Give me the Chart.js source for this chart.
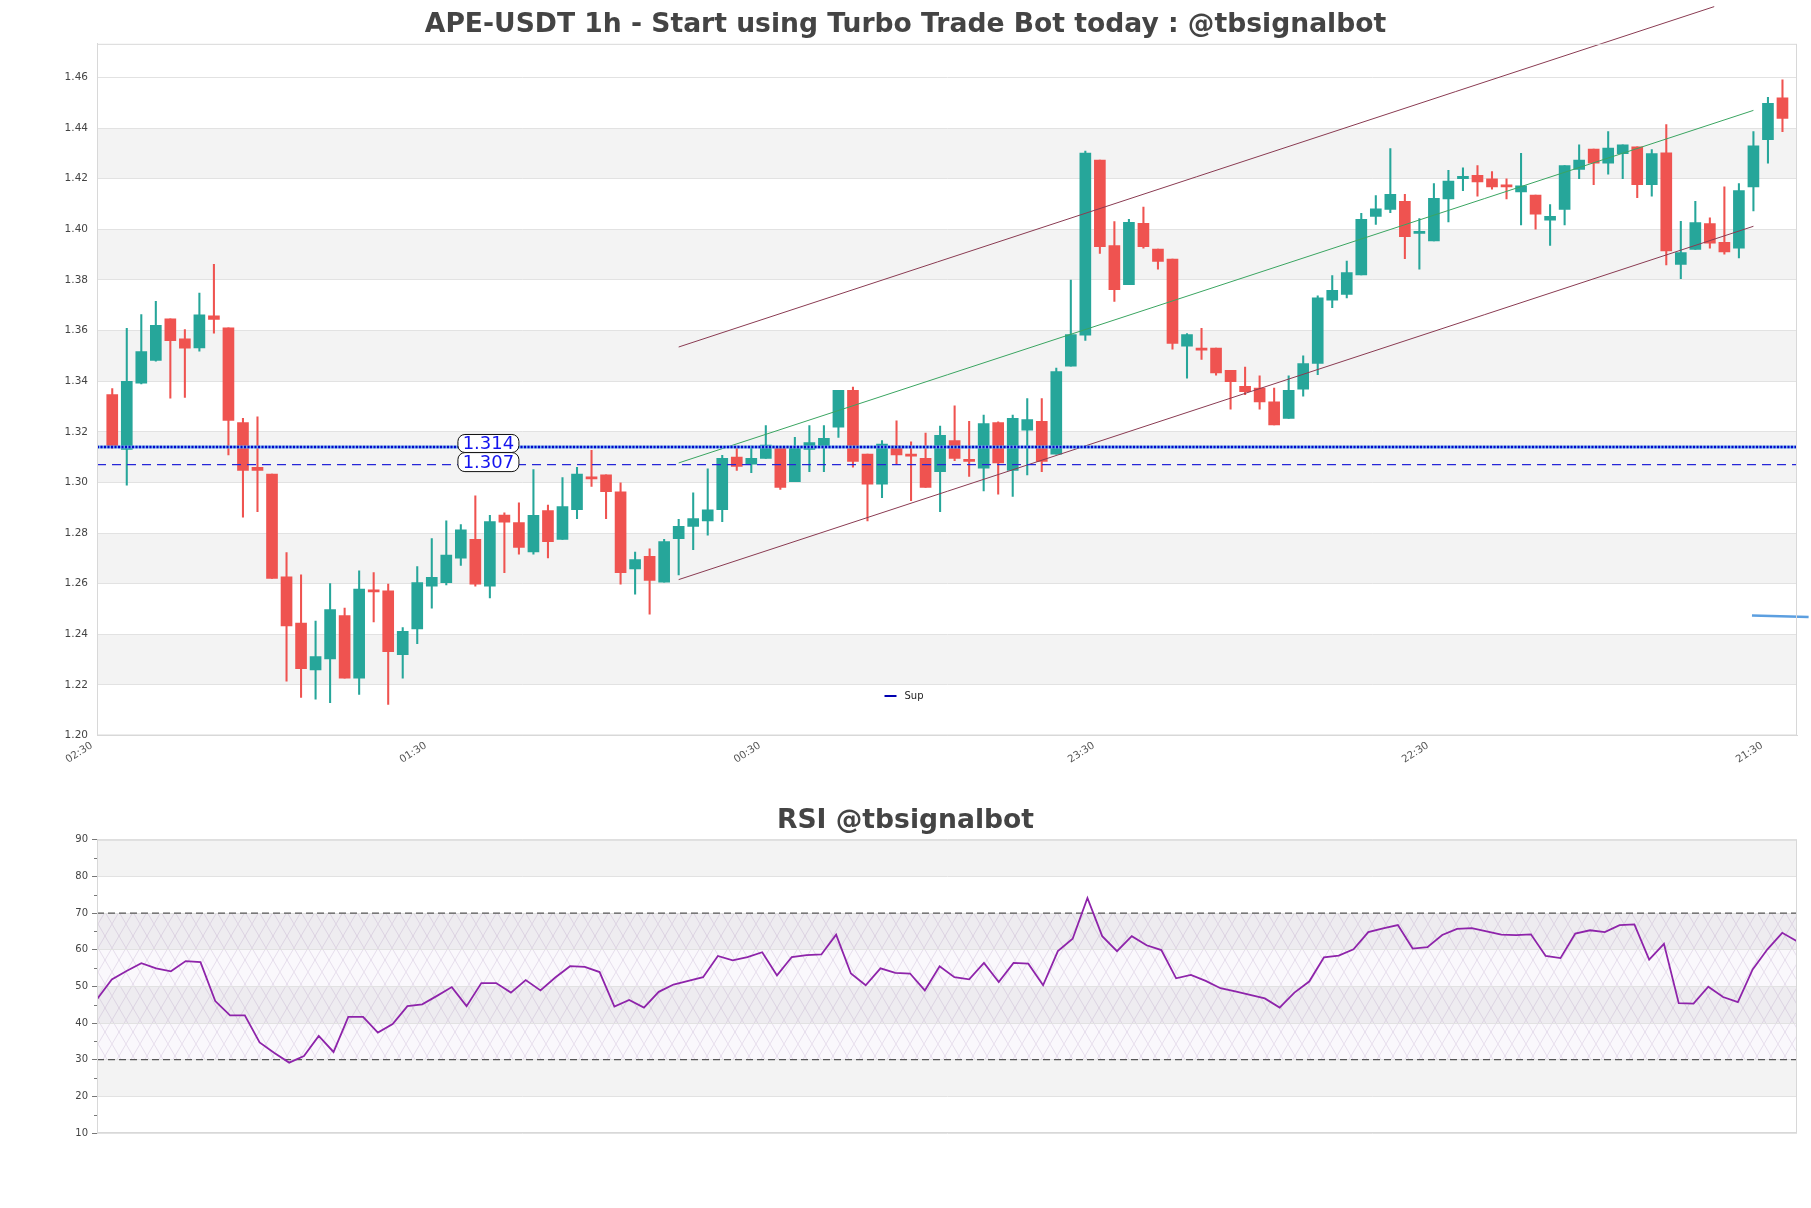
<!DOCTYPE html>
<html><head><meta charset="utf-8">
<script src="https://cdn.jsdelivr.net/npm/chart.js@4.4.1/dist/chart.umd.min.js"></script>
<style>
html,body{margin:0;padding:0;background:#fff;}
#c1{position:absolute;left:0;top:0;}
#c2{position:absolute;left:0;top:780px;}
</style></head><body>
<canvas id="c1" width="1811" height="780"></canvas>
<canvas id="c2" width="1811" height="428"></canvas>
<script>
// ---------------- DATA ----------------
const mainTitle = 'APE-USDT 1h - Start using Turbo Trade Bot today : @tbsignalbot';
const rsiTitle = 'RSI @tbsignalbot';

const opens = [1.3347,1.3130,1.3392,1.3482,1.3646,1.3567,1.3531,1.3658,1.3611,1.3236,
1.3060,1.3033,1.2627,1.2444,1.2259,1.2303,1.2474,1.2227,1.2576,1.2572,
1.2319,1.2421,1.2590,1.2604,1.2701,1.2775,1.2590,1.2871,1.2841,1.2725,
1.2889,1.2775,1.2892,1.3021,1.3030,1.2963,1.2658,1.2708,1.2606,1.2778,
1.2826,1.2848,1.2892,1.3100,1.3072,1.3095,1.3135,1.3003,1.3130,1.3142,
1.3218,1.3364,1.3112,1.2993,1.3144,1.3112,1.3095,1.3042,1.3165,1.3090,
1.3056,1.3236,1.3047,1.3206,1.3241,1.3112,1.3459,1.3582,1.4274,1.3936,
1.3781,1.4024,1.3922,1.3882,1.3538,1.3530,1.3531,1.3443,1.3380,1.3373,
1.3318,1.3253,1.3368,1.3470,1.3720,1.3743,1.3820,1.4051,1.4079,1.4111,
1.3984,1.3954,1.4120,1.4200,1.4213,1.4200,1.4176,1.4148,1.4135,1.4036,
1.4079,1.4237,1.4317,1.4261,1.4299,1.4326,1.4176,1.4302,1.3861,1.3921,
1.4023,1.3949,1.3926,1.4168,1.4354,1.4520];
const highs = [1.3371,1.3609,1.3663,1.3716,1.3646,1.3604,1.3748,1.3862,1.3611,1.3253,
1.3259,1.3033,1.2723,1.2635,1.2452,1.2600,1.2503,1.2651,1.2644,1.2598,
1.2426,1.2667,1.2778,1.2848,1.2833,1.2947,1.2870,1.2880,1.2919,1.3051,
1.2910,1.3019,1.3060,1.3127,1.3030,1.2998,1.2725,1.2738,1.2775,1.2854,
1.2959,1.3054,1.3107,1.3144,1.3144,1.3225,1.3135,1.3178,1.3225,1.3225,
1.3364,1.3377,1.3112,1.3165,1.3243,1.3160,1.3195,1.3223,1.3303,1.3241,
1.3266,1.3239,1.3266,1.3331,1.3331,1.3452,1.3799,1.4309,1.4274,1.4031,
1.4040,1.4088,1.3922,1.3882,1.3588,1.3609,1.3531,1.3443,1.3456,1.3421,
1.3373,1.3421,1.3500,1.3737,1.3817,1.3875,1.4063,1.4133,1.4319,1.4138,
1.4042,1.4181,1.4233,1.4243,1.4252,1.4228,1.4200,1.4300,1.4135,1.4098,
1.4252,1.4334,1.4317,1.4386,1.4334,1.4326,1.4315,1.4414,1.4032,1.4111,
1.4045,1.4168,1.4181,1.4386,1.4522,1.4591];
const lows = [1.3134,1.2989,1.3389,1.3479,1.3333,1.3336,1.3519,1.3590,1.3109,1.2863,
1.2884,1.2621,1.2215,1.2150,1.2144,1.2130,1.2227,1.2162,1.2449,1.2123,
1.2227,1.2363,1.2503,1.2595,1.2672,1.2590,1.2544,1.2643,1.2716,1.2716,
1.2702,1.2775,1.2857,1.2984,1.2857,1.2598,1.2558,1.2479,1.2606,1.2634,
1.2734,1.2792,1.2845,1.3047,1.3039,1.3095,1.2972,1.3003,1.3042,1.3042,
1.3178,1.3060,1.2848,1.2940,1.3072,1.2928,1.2980,1.2884,1.3086,1.3024,
1.2966,1.2954,1.2945,1.3030,1.3042,1.3112,1.3459,1.3561,1.3905,1.3715,
1.3781,1.3926,1.3843,1.3526,1.3412,1.3486,1.3424,1.3289,1.3347,1.3289,
1.3227,1.3253,1.3341,1.3426,1.3690,1.3729,1.3820,1.4019,1.4066,1.3884,
1.3843,1.3954,1.4029,1.4153,1.4131,1.4159,1.4120,1.4017,1.4001,1.3936,
1.4017,1.4200,1.4176,1.4218,1.4200,1.4125,1.4131,1.3859,1.3805,1.3921,
1.3926,1.3902,1.3887,1.4073,1.4261,1.4386];
const closes = [1.3144,1.3399,1.3517,1.3621,1.3560,1.3530,1.3662,1.3644,1.3245,1.3047,
1.3047,1.2621,1.2433,1.2264,1.2312,1.2498,1.2227,1.2579,1.2567,1.2331,
1.2412,1.2604,1.2625,1.2713,1.2813,1.2598,1.2845,1.2843,1.2743,1.2870,
1.2766,1.2905,1.3033,1.3014,1.2963,1.2643,1.2695,1.2613,1.2766,1.2826,
1.2857,1.2892,1.3095,1.3063,1.3095,1.3148,1.2980,1.3142,1.3157,1.3174,
1.3364,1.3083,1.2993,1.3151,1.3109,1.3104,1.2980,1.3186,1.3095,1.3083,
1.3232,1.3077,1.3253,1.3248,1.3083,1.3438,1.3584,1.4301,1.3931,1.3762,
1.4028,1.3931,1.3873,1.3549,1.3584,1.3523,1.3433,1.3398,1.3359,1.3318,
1.3227,1.3364,1.3470,1.3729,1.3759,1.3829,1.4040,1.4081,1.4138,1.3971,
1.3990,1.4122,1.4191,1.4209,1.4187,1.4168,1.4168,1.4172,1.4060,1.4051,
1.4252,1.4274,1.4261,1.4321,1.4334,1.4176,1.4299,1.3915,1.3908,1.4027,
1.3945,1.3911,1.4153,1.4330,1.4498,1.4438];

const rsiValues = [46.5,51.9,54.2,56.3,54.9,54.1,56.9,56.6,46.0,42.1,
42.1,34.7,31.8,29.2,31.0,36.5,32.1,41.7,41.7,37.4,
39.7,44.6,45.1,47.4,49.8,44.6,50.9,50.9,48.3,51.7,
48.9,52.4,55.5,55.3,53.9,44.5,46.3,44.2,48.5,50.5,
51.5,52.5,58.3,57.1,58.0,59.3,53.0,58.0,58.5,58.7,
64.1,53.5,50.3,54.9,53.7,53.5,48.9,55.5,52.5,51.9,
56.4,51.2,56.4,56.2,50.3,59.6,63.0,74.1,63.7,59.6,
63.7,61.2,59.9,52.2,53.1,51.5,49.5,48.6,47.7,46.7,
44.2,48.3,51.3,57.9,58.4,60.1,64.8,65.8,66.7,60.3,
60.7,64.0,65.7,65.9,65.0,64.1,64.0,64.2,58.3,57.7,
64.4,65.3,64.8,66.7,66.9,57.3,61.6,45.4,45.3,49.9,
47.1,45.7,54.6,60.1,64.6,62.3];

const xTickPositions = [-1, 22, 45, 68, 91, 114];
const xTickLabels = ['02:30', '01:30', '00:30', '23:30', '22:30', '21:30'];
const yTicks = [1.20,1.22,1.24,1.26,1.28,1.30,1.32,1.34,1.36,1.38,1.40,1.42,1.44,1.46];
const rsiTicks = [10,20,30,40,50,60,70,80,90];
const rsiMinorTicks = [15,25,35,45,55,65,75,85];

const supLevel = 1.314;
const supLevel2 = 1.307;
const levelLabelX = 25.9;

const upperChannelX = [39, 110.3];
const upperChannelY = [1.3535, 1.4880];
const midChannelX = [39, 113];
const midChannelY = [1.3077, 1.4470];
const lowerChannelX = [39, 113];
const lowerChannelY = [1.2616, 1.4012];
const blueMarkX = [112.9, 116.8];
const blueMarkY = [1.2474, 1.2468];

const rsiUpper = 70, rsiLower = 30;

// ---------------- BUILD ----------------
Chart.defaults.font.family = "'DejaVu Sans', sans-serif";
Chart.defaults.animation = false;

const UP = '#26a69a', DOWN = '#ef5350';
const idx = opens.map((_, i) => i);
const candleColors = idx.map(i => closes[i] >= opens[i] ? UP : DOWN);
const bodyData = idx.map(i => ({x: i, y: [opens[i], closes[i]]}));
const wickData = idx.map(i => ({x: i, y: [lows[i], highs[i]]}));
const pts = (xs, ys) => xs.map((x, k) => ({x, y: ys[k]}));

const bandPlugin = {
  id: 'bands',
  beforeDraw(chart, args, opts) {
    const {ctx, chartArea: a, scales: {y}} = chart;
    ctx.save();
    ctx.fillStyle = '#f3f3f3';
    const t = opts.ticks;
    for (let i = 1; i + 1 < t.length; i += 2) {
      const y1 = y.getPixelForValue(t[i + 1]), y2 = y.getPixelForValue(t[i]);
      ctx.fillRect(a.left, y1, a.right - a.left, y2 - y1);
    }
    if (opts.hatch) {
      const p = document.createElement('canvas');
      p.width = 14; p.height = 24;
      const pc = p.getContext('2d');
      pc.strokeStyle = 'rgba(150,110,170,0.24)';
      pc.lineWidth = 0.8;
      pc.beginPath();
      pc.moveTo(0, 0); pc.lineTo(14, 24);
      pc.moveTo(14, 0); pc.lineTo(0, 24);
      pc.stroke();
      const y1 = y.getPixelForValue(opts.hatch[1]), y2 = y.getPixelForValue(opts.hatch[0]);
      ctx.fillStyle = 'rgba(190,160,215,0.07)';
      ctx.fillRect(a.left, y1, a.right - a.left, y2 - y1);
      ctx.fillStyle = ctx.createPattern(p, 'repeat');
      ctx.fillRect(a.left, y1, a.right - a.left, y2 - y1);
    }
    ctx.restore();
  },
  afterDraw(chart) {
    const {ctx, chartArea: a} = chart;
    ctx.save();
    ctx.strokeStyle = '#d8d8d8';
    ctx.lineWidth = 1;
    ctx.strokeRect(a.left + 0.5, a.top + 0.5, a.right - a.left - 1, a.bottom - a.top - 1);
    ctx.restore();
  }
};

const levelLabelPlugin = {
  id: 'levelLabels',
  afterDatasetsDraw(chart) {
    const {ctx, scales: {x, y}} = chart;
    const items = [[supLevel, -3.5, 18], [supLevel2, -2.6, 19]];
    ctx.save();
    items.forEach(([v, dy, h]) => {
      const cx = x.getPixelForValue(levelLabelX);
      const cy = y.getPixelForValue(v) + dy;
      const w = 61;
      ctx.beginPath();
      ctx.roundRect(cx - w / 2, cy - h / 2, w, h, 7);
      ctx.fillStyle = '#ffffff';
      ctx.fill();
      ctx.strokeStyle = '#111';
      ctx.lineWidth = 1;
      ctx.stroke();
      ctx.fillStyle = '#1414ee';
      ctx.font = "18px 'DejaVu Sans'";
      ctx.textAlign = 'center';
      ctx.textBaseline = 'middle';
      ctx.fillText(v.toFixed(3), cx, cy + 1);
    });
    // legend "Sup"
    const a = chart.chartArea;
    const lx = chart.width / 2 - 21, ly = a.bottom - 39.5;
    ctx.strokeStyle = '#0000b0';
    ctx.lineWidth = 2;
    ctx.beginPath(); ctx.moveTo(lx, ly); ctx.lineTo(lx + 12, ly); ctx.stroke();
    ctx.fillStyle = '#222';
    ctx.font = "10px 'DejaVu Sans'";
    ctx.textAlign = 'left';
    ctx.textBaseline = 'middle';
    ctx.fillText('Sup', lx + 20, ly);
    ctx.restore();
  }
};

const minorTickPlugin = {
  id: 'minorTicks',
  afterDraw(chart) {
    const {ctx, chartArea: a, scales: {y}} = chart;
    ctx.save();
    ctx.strokeStyle = '#777';
    ctx.lineWidth = 1;
    rsiMinorTicks.forEach(v => {
      const py = Math.round(y.getPixelForValue(v)) + 0.5;
      ctx.beginPath(); ctx.moveTo(a.left - 3, py); ctx.lineTo(a.left, py); ctx.stroke();
    });
    ctx.restore();
  }
};

const titleFont = {family: "'DejaVu Sans'", size: 26.6, weight: 'bold', lineHeight: 1.2};

new Chart(document.getElementById('c1'), {
  type: 'bar',
  data: {
    datasets: [
      {type: 'line', data: pts([-1.05, 116], [supLevel, supLevel]), borderColor: '#70aef0', borderWidth: 3, pointRadius: 0, order: -3},
      {type: 'line', data: pts([-1.05, 116], [supLevel, supLevel]), borderColor: '#0606c8', borderWidth: 2.6, borderDash: [2, 1.5], pointRadius: 0, order: -4},
      {type: 'line', data: pts([-1.05, 116], [supLevel2, supLevel2]), borderColor: '#2626d8', borderWidth: 1.2, borderDash: [9, 6], pointRadius: 0, order: -2},
      {type: 'line', data: pts(upperChannelX, upperChannelY), borderColor: '#8a3b52', borderWidth: 1, pointRadius: 0, clip: false, order: -1},
      {type: 'line', data: pts(midChannelX, midChannelY), borderColor: '#3aa561', borderWidth: 1, pointRadius: 0, order: -1},
      {type: 'line', data: pts(lowerChannelX, lowerChannelY), borderColor: '#8a3b52', borderWidth: 1, pointRadius: 0, order: -1},
      {type: 'line', data: pts(blueMarkX, blueMarkY), borderColor: '#5c9fe0', borderWidth: 2.5, pointRadius: 0, clip: false, order: -1},
      {type: 'bar', data: bodyData, backgroundColor: candleColors, barThickness: 11, grouped: false, minBarLength: 2, order: 0},
      {type: 'bar', data: wickData, backgroundColor: candleColors, barThickness: 1.4, grouped: false, order: 1}
    ]
  },
  options: {
    responsive: false,
    devicePixelRatio: 1,
    events: [],
    layout: {padding: {left: 14, right: 14, top: 0, bottom: 0}},
    plugins: {
      legend: {display: false},
      tooltip: {enabled: false},
      title: {display: true, text: mainTitle, color: '#444', font: titleFont, padding: {top: 8.7, bottom: 3.2}},
      bands: {ticks: yTicks}
    },
    scales: {
      x: {
        type: 'linear', min: -1.05, max: 116, offset: false,
        afterBuildTicks: s => { s.ticks = xTickPositions.map(v => ({value: v})); },
        afterFit: s => { s.height = 44.5; },
        grid: {display: false, drawTicks: false},
        border: {display: true, color: '#d8d8d8'},
        ticks: {autoSkip: false, minRotation: 33, maxRotation: 33, padding: 4, labelOffset: -6, color: '#555', font: {size: 10.3},
                callback: (v, i) => xTickLabels[i]}
      },
      y: {
        type: 'linear', min: 1.20, max: 1.4733,
        afterBuildTicks: s => { s.ticks = yTicks.map(v => ({value: v})); },
        afterFit: s => { s.width = 83; },
        grid: {color: '#e2e2e2', drawTicks: false},
        border: {display: true, color: '#d8d8d8'},
        ticks: {padding: 9, color: '#444', font: {size: 10.5}, callback: v => v.toFixed(2)}
      }
    }
  },
  plugins: [bandPlugin, levelLabelPlugin]
});

new Chart(document.getElementById('c2'), {
  type: 'line',
  data: {
    datasets: [
      {data: rsiValues.map((v, i) => ({x: i, y: v})), borderColor: '#8e24aa', borderWidth: 1.8, pointRadius: 0, tension: 0, order: 0},
      {data: pts([0, 115], [rsiUpper, rsiUpper]), borderColor: '#555', borderWidth: 1.3, borderDash: [7, 4], pointRadius: 0, order: 1},
      {data: pts([0, 115], [rsiLower, rsiLower]), borderColor: '#555', borderWidth: 1.3, borderDash: [7, 4], pointRadius: 0, order: 1}
    ]
  },
  options: {
    responsive: false,
    devicePixelRatio: 1,
    events: [],
    layout: {padding: {left: 14, right: 14, top: 0, bottom: 75}},
    plugins: {
      legend: {display: false},
      tooltip: {enabled: false},
      title: {display: true, text: rsiTitle, color: '#444', font: titleFont, padding: {top: 25.3, bottom: 2.5}},
      bands: {ticks: rsiTicks, hatch: [rsiLower, rsiUpper]}
    },
    scales: {
      x: {type: 'linear', min: 0, max: 115, display: false},
      y: {
        type: 'linear', min: 10, max: 90,
        afterBuildTicks: s => { s.ticks = rsiTicks.map(v => ({value: v})); },
        afterFit: s => { s.width = 83; },
        grid: {color: '#e2e2e2', tickLength: 5, tickColor: '#777'},
        border: {display: true, color: '#d8d8d8'},
        ticks: {padding: 4, color: '#444', font: {size: 10}}
      }
    }
  },
  plugins: [bandPlugin, minorTickPlugin]
});
</script>
</body></html>
